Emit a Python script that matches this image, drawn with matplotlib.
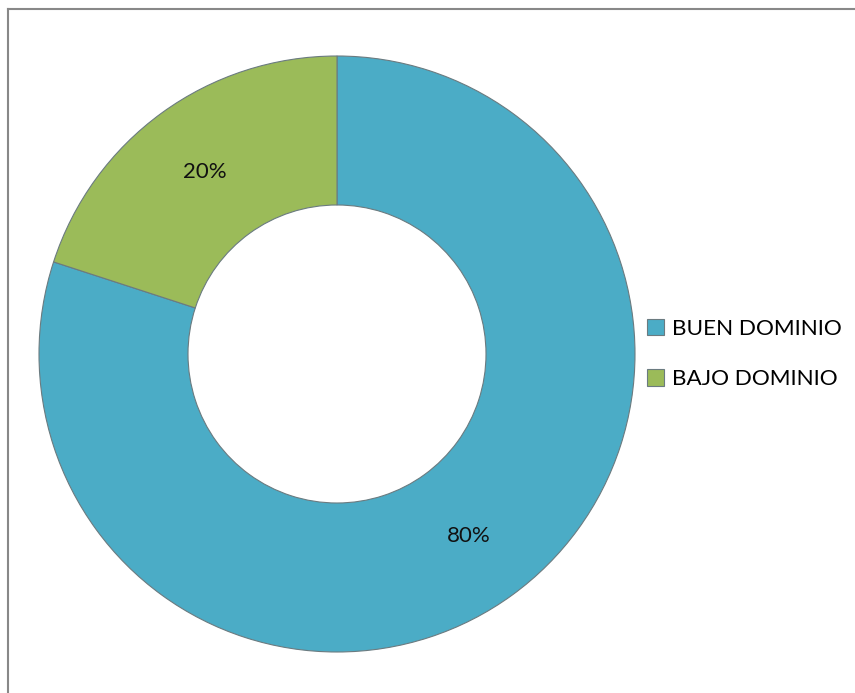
import matplotlib
matplotlib.use("Agg")
import matplotlib.pyplot as plt
from matplotlib.lines import Line2D

categories = ["BUEN DOMINIO", "BAJO DOMINIO"]
values = [80, 20]
colors = ["#4BACC6", "#9BBB59"]

plt.rcParams['font.family'] = ['Lato', 'DejaVu Sans']

fig = plt.figure(figsize=(8.55, 6.93), dpi=100)
ax = fig.add_axes([39/855, 41/693, 596/855, 596/693])
wedges, texts, autotexts = ax.pie(
    values, colors=colors, startangle=90, counterclock=False,
    radius=1.0, autopct='%1.0f%%', pctdistance=0.755,
    wedgeprops=dict(width=0.5, edgecolor='#6b7b80', linewidth=0.8),
    textprops=dict(fontsize=16, color='#111111'))
ax.set_xlim(-1, 1)
ax.set_ylim(-1, 1)
ax.set_aspect('equal')
ax.axis('off')

leg = fig.legend(wedges, categories, loc='center left',
                 bbox_to_anchor=(627/855, 1 - 354/693), frameon=False,
                 fontsize=16.2, handlelength=0.75, handleheight=0.75,
                 handletextpad=0.35, labelspacing=1.35)

fig.add_artist(Line2D([8/855, 1], [1 - 9/693, 1 - 9/693], transform=fig.transFigure,
                      color='#888888', linewidth=1.5))
fig.add_artist(Line2D([8/855, 8/855], [0, 1 - 9/693], transform=fig.transFigure,
                      color='#888888', linewidth=1.5))

fig.savefig("out.png", dpi=100)
